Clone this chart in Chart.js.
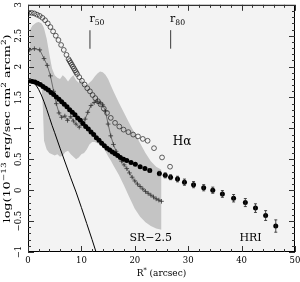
<!DOCTYPE html>
<html>
<head>
<meta charset="utf-8">
<script src="https://cdn.jsdelivr.net/npm/chart.js@4.4.0/dist/chart.umd.min.js"></script>
<style>
  html, body { margin: 0; padding: 0; background: #fff; }
  #wrap { width: 300px; height: 282px; }
</style>
</head>
<body>
<div id="wrap"><canvas id="chart"></canvas></div>
<script>
// grey band (SR-2.5 uncertainty)
const bandR  = [0.3, 0.8, 1.5, 2.0, 2.5, 2.8, 3.0, 3.5, 4.0, 4.5, 5.0, 5.5, 6.0, 6.5, 7.0, 7.5, 8.0, 8.5, 9.0, 9.5,
                10.0, 10.5, 11.0, 11.5, 12.0, 12.5, 13.0, 13.5, 14.0, 14.5, 15.0, 15.5, 16.0, 17.0, 18.0, 19.0, 20.0, 21.0, 22.0, 23.0, 24.0, 25.0];
const bandHi = [2.58, 2.66, 2.71, 2.72, 2.70, 2.66, 2.62, 2.45, 2.20, 1.97, 1.86, 1.82, 1.80, 1.86, 1.82, 1.76, 1.82, 1.86, 1.78, 1.74,
                1.80, 1.72, 1.70, 1.74, 1.78, 1.84, 1.89, 1.92, 1.91, 1.87, 1.80, 1.70, 1.60, 1.42, 1.25, 1.08, 0.92, 0.76, 0.60, 0.47, 0.38, 0.33];
const bandLo = [1.78, 1.77, 1.77, 1.76, 1.76, 1.30, 0.80, 0.66, 0.60, 0.58, 0.56, 0.58, 0.54, 0.56, 0.62, 0.64, 0.58, 0.54, 0.50, 0.53,
                0.58, 0.60, 0.66, 0.74, 0.78, 0.78, 0.76, 0.74, 0.70, 0.63, 0.55, 0.48, 0.40, 0.25, 0.07, -0.12, -0.30, -0.43, -0.52, -0.58, -0.62, -0.64];

// PSF model (thin black line)
const psfR   = [0, 0.5, 1, 1.5, 2, 2.5, 3, 3.5, 4, 4.5, 5, 6, 7, 8, 9, 10, 11, 12, 13];
const psfLog = [1.77, 1.76, 1.74, 1.70, 1.63, 1.54, 1.43, 1.31, 1.18, 1.05, 0.93, 0.68, 0.44, 0.20, -0.03, -0.28, -0.54, -0.80, -1.07];

// SR-2.5 profile (crosses)
const srR   = [0.3, 1.2, 2.2, 3.0, 3.6, 4.2, 4.8, 5.3, 5.8, 6.3, 6.9, 7.4, 8.0, 8.5, 9.0, 9.6, 10.1, 10.7, 11.2, 11.8,
               12.4, 13.0, 13.5, 14.0, 14.5, 15.0, 15.5, 16.0, 16.5, 17.0, 17.5, 18.0, 18.5, 19.0, 19.5, 20.0, 20.5, 21.0,
               21.5, 22.0, 22.5, 23.0, 23.5, 24.0, 24.5, 25.0];
const srLog = [2.27, 2.29, 2.27, 2.13, 2.02, 1.85, 1.60, 1.40, 1.25, 1.18, 1.20, 1.13, 1.19, 1.12, 1.07, 1.02, 1.08, 1.15, 1.26, 1.37,
               1.42, 1.44, 1.41, 1.38, 1.28, 1.07, 0.88, 0.74, 0.63, 0.55, 0.47, 0.41, 0.35, 0.28, 0.21, 0.15, 0.10, 0.06,
               0.02, -0.02, -0.05, -0.08, -0.11, -0.14, -0.16, -0.18];

// H-alpha profile (open circles)
const haR   = [0.2, 0.7, 1.2, 1.7, 2.2, 2.7, 3.2, 3.7, 4.2, 4.7, 5.2, 5.7, 6.2, 6.7, 7.2, 7.6, 7.8, 8.0, 8.2, 8.4,
               8.6, 8.8, 9.0, 9.2, 9.6, 10.1, 10.6, 11.1, 11.6, 12.1, 12.6, 13.1, 13.6, 14.2, 14.8, 15.5, 16.3, 17.1,
               17.9, 18.8, 19.7, 20.6, 21.5, 22.4, 23.6, 25.1, 26.6];
const haLog = [2.87, 2.87, 2.86, 2.84, 2.82, 2.79, 2.75, 2.70, 2.64, 2.57, 2.50, 2.43, 2.35, 2.27, 2.19, 2.12, 2.09, 2.06, 2.03, 2.00,
               1.97, 1.94, 1.91, 1.88, 1.83, 1.77, 1.71, 1.65, 1.60, 1.54, 1.49, 1.44, 1.39, 1.32, 1.25, 1.17, 1.09, 1.03,
               0.98, 0.94, 0.90, 0.87, 0.83, 0.80, 0.68, 0.53, 0.38];

// HRI profile (filled circles) and error bars
const hriR   = [0.3, 0.8, 1.3, 1.8, 2.3, 2.8, 3.3, 3.8, 4.3, 4.8, 5.3, 5.8, 6.3, 6.8, 7.3, 7.8, 8.3, 8.8, 9.3, 9.8,
                10.3, 10.8, 11.3, 11.8, 12.3, 12.8, 13.3, 13.8, 14.3, 14.8, 15.3, 15.8, 16.3, 16.8, 17.3, 17.9, 18.5,
                19.3, 20.1, 21.0, 21.9, 22.8, 24.6, 25.7, 26.7, 28.0, 29.3, 31.0, 32.9, 34.6, 36.4, 38.5, 40.7, 42.6, 44.5, 46.4];
const hriLog = [1.77, 1.76, 1.75, 1.73, 1.71, 1.68, 1.65, 1.62, 1.58, 1.55, 1.51, 1.47, 1.43, 1.39, 1.35, 1.30, 1.26, 1.22, 1.17, 1.13,
                1.08, 1.03, 0.99, 0.94, 0.90, 0.85, 0.81, 0.76, 0.72, 0.68, 0.65, 0.62, 0.59, 0.56, 0.53, 0.50, 0.48,
                0.45, 0.42, 0.38, 0.35, 0.32, 0.27, 0.24, 0.21, 0.18, 0.13, 0.09, 0.04, 0.00, -0.06, -0.13, -0.20, -0.29, -0.41, -0.58];
const hriErr = [0, 0, 0, 0, 0, 0, 0, 0, 0, 0, 0, 0, 0, 0, 0, 0, 0, 0, 0, 0,
                0, 0, 0, 0, 0, 0, 0, 0, 0, 0, 0, 0, 0, 0, 0, 0, 0,
                0, 0, 0, 0, 0.03, 0.035, 0.04, 0.04, 0.045, 0.05, 0.05, 0.05, 0.05, 0.055, 0.06, 0.065, 0.07, 0.08, 0.1];

// axis ticks
const xTicks = [0, 10, 20, 30, 40, 50];
const yTicks = [-1, -0.5, 0, 0.5, 1, 1.5, 2, 2.5, 3];
const yTickLabels = ["\u22121", "\u22120.5", "0", "0.5", "1", "1.5", "2", "2.5", "3"];

// radius markers
const markerR = [11.6, 26.7];
const markerNames = ["50", "80"];

const FONT = '"DejaVu Serif", serif';

function pts(xs, ys) {
    return xs.map((v, i) => ({ x: v, y: ys[i] }));
}

// draw text pieces along a baseline; mode 1 = superscript, -1 = subscript
function richWidth(ctx, parts, size) {
    let w = 0;
    parts.forEach(([t, m]) => {
        ctx.font = (m ? size * 0.7 : size) + "px " + FONT;
        w += ctx.measureText(t).width;
    });
    return w;
}
function richText(ctx, parts, x, y, size) {
    let cx = x;
    parts.forEach(([t, m]) => {
        const s = m ? size * 0.7 : size;
        ctx.font = s + "px " + FONT;
        const dy = m === 1 ? -size * 0.42 : m === -1 ? size * 0.3 : 0;
        ctx.fillText(t, cx, y + dy);
        cx += ctx.measureText(t).width;
    });
}

const framePlugin = {
    id: "frame",
    beforeDraw(chart) {
        const { ctx, chartArea: a } = chart;
        ctx.save();
        ctx.fillStyle = "#fff";
        ctx.fillRect(0, 0, chart.width, chart.height);
        ctx.fillStyle = "#f3f3f3";
        ctx.fillRect(a.left, a.top, a.right - a.left, a.bottom - a.top);
        ctx.restore();
    },
    afterDatasetsDraw(chart) {
        const { ctx, chartArea: a, scales: { x, y } } = chart;
        ctx.save();

        // error bars on the HRI points
        ctx.strokeStyle = "#222";
        ctx.lineWidth = 0.8;
        hriErr.forEach((e, i) => {
            if (!e) return;
            const px = x.getPixelForValue(hriR[i]);
            const y1 = y.getPixelForValue(hriLog[i] - e);
            const y2 = y.getPixelForValue(hriLog[i] + e);
            ctx.beginPath();
            ctx.moveTo(px, y1); ctx.lineTo(px, y2);
            ctx.moveTo(px - 1.5, y1); ctx.lineTo(px + 1.5, y1);
            ctx.moveTo(px - 1.5, y2); ctx.lineTo(px + 1.5, y2);
            ctx.stroke();
        });

        // frame
        ctx.strokeStyle = "#000";
        ctx.lineWidth = 1;
        ctx.strokeRect(a.left + 0.5, a.top + 0.5, a.right - a.left - 1, a.bottom - a.top - 1);

        // inward ticks on all four sides
        ctx.strokeStyle = "#333";
        ctx.beginPath();
        for (let k = 0; k <= 25; k++) {
            const px = Math.round(x.getPixelForValue(k * 2)) + 0.5;
            const len = k % 5 === 0 ? 6 : 3;
            ctx.moveTo(px, a.bottom); ctx.lineTo(px, a.bottom - len);
            ctx.moveTo(px, a.top); ctx.lineTo(px, a.top + len);
        }
        for (let k = -10; k <= 30; k++) {
            const py = Math.round(y.getPixelForValue(k / 10)) + 0.5;
            const len = k % 5 === 0 ? 6 : 3;
            ctx.moveTo(a.left, py); ctx.lineTo(a.left + len, py);
            ctx.moveTo(a.right, py); ctx.lineTo(a.right - len, py);
        }
        ctx.stroke();

        // tick labels
        ctx.fillStyle = "#000";
        ctx.font = "8.5px " + FONT;
        ctx.textAlign = "center";
        ctx.textBaseline = "middle";
        xTicks.forEach((v) => {
            ctx.fillText(String(v), x.getPixelForValue(v), a.bottom + 8.5);
        });
        yTicks.forEach((v, i) => {
            ctx.save();
            ctx.translate(19, y.getPixelForValue(v));
            ctx.rotate(-Math.PI / 2);
            ctx.fillText(yTickLabels[i], 0, 0);
            ctx.restore();
        });

        // axis titles
        ctx.textAlign = "left";
        ctx.textBaseline = "alphabetic";
        const xt = [["R", 0], ["*", 1], [" (arcsec)", 0]];
        const xw = richWidth(ctx, xt, 9);
        richText(ctx, xt, (a.left + a.right) / 2 - xw / 2, 276, 9);

        const yt = [["log(10", 0], ["\u221213", 1], [" erg/sec cm", 0], ["2", 1], [" arcm", 0], ["2", 1], [")", 0]];
        const yw = richWidth(ctx, yt, 10);
        const target = 188;
        ctx.save();
        ctx.translate(10, (a.top + a.bottom) / 2);
        ctx.rotate(-Math.PI / 2);
        ctx.scale(target / yw, 1);
        richText(ctx, yt, -yw / 2, 0, 10);
        ctx.restore();

        // r50 / r80 markers
        ctx.strokeStyle = "#555";
        ctx.lineWidth = 1.2;
        markerR.forEach((r, i) => {
            const px = x.getPixelForValue(r);
            ctx.beginPath();
            ctx.moveTo(px, y.getPixelForValue(2.59));
            ctx.lineTo(px, y.getPixelForValue(2.29));
            ctx.stroke();
            richText(ctx, [["r", 0], [markerNames[i], -1]], px - 0.5, y.getPixelForValue(2.72), 11);
        });

        // series labels
        ctx.textBaseline = "middle";
        ctx.font = "12px " + FONT;
        ctx.fillText("H\u03b1", x.getPixelForValue(27.1), y.getPixelForValue(0.79));
        ctx.font = "11px " + FONT;
        ctx.fillText("SR\u22122.5", x.getPixelForValue(19.0), y.getPixelForValue(-0.77));
        ctx.fillText("HRI", x.getPixelForValue(39.6), y.getPixelForValue(-0.77));

        ctx.restore();
    },
};

new Chart(document.getElementById("chart"), {
    type: "line",
    data: {
        datasets: [
            {
                data: pts(bandR, bandHi),
                borderWidth: 0,
                pointRadius: 0,
                fill: "+1",
                backgroundColor: "#c4c4c4",
                order: 6,
            },
            {
                data: pts(bandR, bandLo),
                borderWidth: 0,
                pointRadius: 0,
                fill: false,
                order: 5,
            },
            {
                data: pts(psfR, psfLog),
                borderColor: "#000",
                borderWidth: 1,
                pointRadius: 0,
                fill: false,
                order: 4,
            },
            {
                data: pts(srR, srLog),
                borderColor: "#555",
                borderWidth: 0.8,
                pointStyle: "cross",
                pointRadius: 2.3,
                pointBorderColor: "#333",
                pointBorderWidth: 0.8,
                fill: false,
                order: 3,
            },
            {
                data: pts(haR, haLog),
                showLine: false,
                pointStyle: "circle",
                pointRadius: 2.4,
                pointBorderColor: "#222",
                pointBackgroundColor: "rgba(0,0,0,0)",
                pointBorderWidth: 0.7,
                order: 2,
            },
            {
                data: pts(hriR, hriLog),
                showLine: false,
                pointRadius: 2.5,
                pointBackgroundColor: "#000",
                pointBorderColor: "#000",
                pointBorderWidth: 0,
                order: 1,
            },
        ],
    },
    options: {
        responsive: true,
        maintainAspectRatio: false,
        animation: false,
        devicePixelRatio: 1,
        layout: { padding: { top: 2, right: 5, left: 0, bottom: 0 } },
        plugins: {
            legend: { display: false },
            tooltip: { enabled: false },
        },
        elements: { line: { tension: 0 } },
        scales: {
            x: {
                type: "linear",
                min: 0,
                max: 50,
                ticks: { display: false, stepSize: 10 },
                grid: { display: false, drawTicks: false },
                border: { display: false },
                afterFit: (s) => { s.height = 30; },
            },
            y: {
                type: "linear",
                min: -1,
                max: 3,
                ticks: { display: false, stepSize: 0.5 },
                grid: { display: false, drawTicks: false },
                border: { display: false },
                afterFit: (s) => { s.width = 28; },
            },
        },
    },
    plugins: [framePlugin],
});
</script>
</body>
</html>
